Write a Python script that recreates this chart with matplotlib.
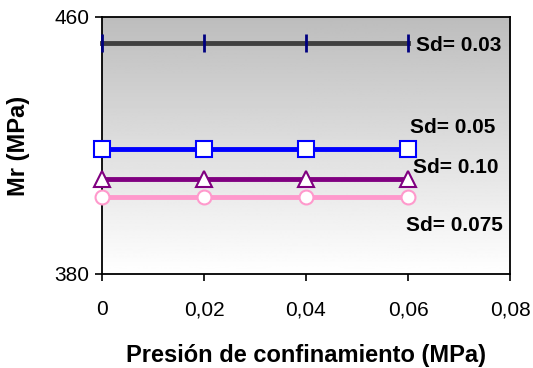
import matplotlib.pyplot as plt
import numpy as np

plt.rcParams['font.family'] = ['Liberation Sans', 'DejaVu Sans']

# confining pressure (MPa) and resilient modulus (MPa) for each Sd
presion = [0, 0.02, 0.04, 0.06]
mr_003 = [452, 452, 452, 452]
mr_005 = [419, 419, 419, 419]
mr_010 = [409.5, 409.5, 409.5, 409.5]
mr_0075 = [404, 404, 404, 404]

xticks = [0, 0.02, 0.04, 0.06, 0.08]
xlabels = ['0', '0,02', '0,04', '0,06', '0,08']

fig = plt.figure(figsize=(5.33, 3.68), dpi=100)
ax = fig.add_axes([102/533, 1 - 274/368, 408/533, 257/368])

# grey-to-white vertical gradient behind the plot
grad = np.linspace(0.74, 1.0, 256).reshape(-1, 1)
ax.imshow(grad, cmap='gray', vmin=0, vmax=1, aspect='auto', origin='upper',
          extent=[0, 0.08, 380, 460], zorder=0)

ax.plot(presion, mr_003, color='#404040', lw=3.5, marker='|', ms=13,
        mec='#000080', mew=2, clip_on=False, zorder=3)
ax.plot(presion, mr_005, color='#0000ff', lw=3.5, marker='s', ms=11,
        mfc='white', mec='#0000ff', mew=1.5, clip_on=False, zorder=3)
ax.plot(presion, mr_010, color='#800080', lw=3.5, marker='^', ms=12,
        mfc='white', mec='#800080', mew=1.5, clip_on=False, zorder=3)
ax.plot(presion, mr_0075, color='#ff99cc', lw=3.5, marker='o', ms=10,
        mfc='white', mec='#ff99cc', mew=1.5, clip_on=False, zorder=3)

lab = dict(fontsize=15, fontweight='bold', ha='left', va='center')
ax.text(0.0616, 451.0, 'Sd= 0.03', **lab)
ax.text(0.0603, 425.5, 'Sd= 0.05', **lab)
ax.text(0.0609, 413.0, 'Sd= 0.10', **lab)
ax.text(0.0597, 395.0, 'Sd= 0.075', **lab)

ax.set_xlim(0, 0.08)
ax.set_ylim(380, 460)
ax.set_xticks(xticks)
ax.set_xticklabels(xlabels)
ax.set_yticks([380, 460])
ax.tick_params(direction='out', length=5, width=1.2, labelsize=15)
ax.tick_params(axis='x', pad=14)
ax.tick_params(axis='y', pad=4)
for s in ax.spines.values():
    s.set_linewidth(1.3)

ax.set_xlabel('Presión de confinamiento (MPa)', fontsize=17,
              fontweight='bold', labelpad=18)
ax.set_ylabel('Mr (MPa)', fontsize=17, fontweight='bold', va='center')
ax.yaxis.set_label_coords(-0.205, 0.5)

fig.savefig('out.png', dpi=100)
